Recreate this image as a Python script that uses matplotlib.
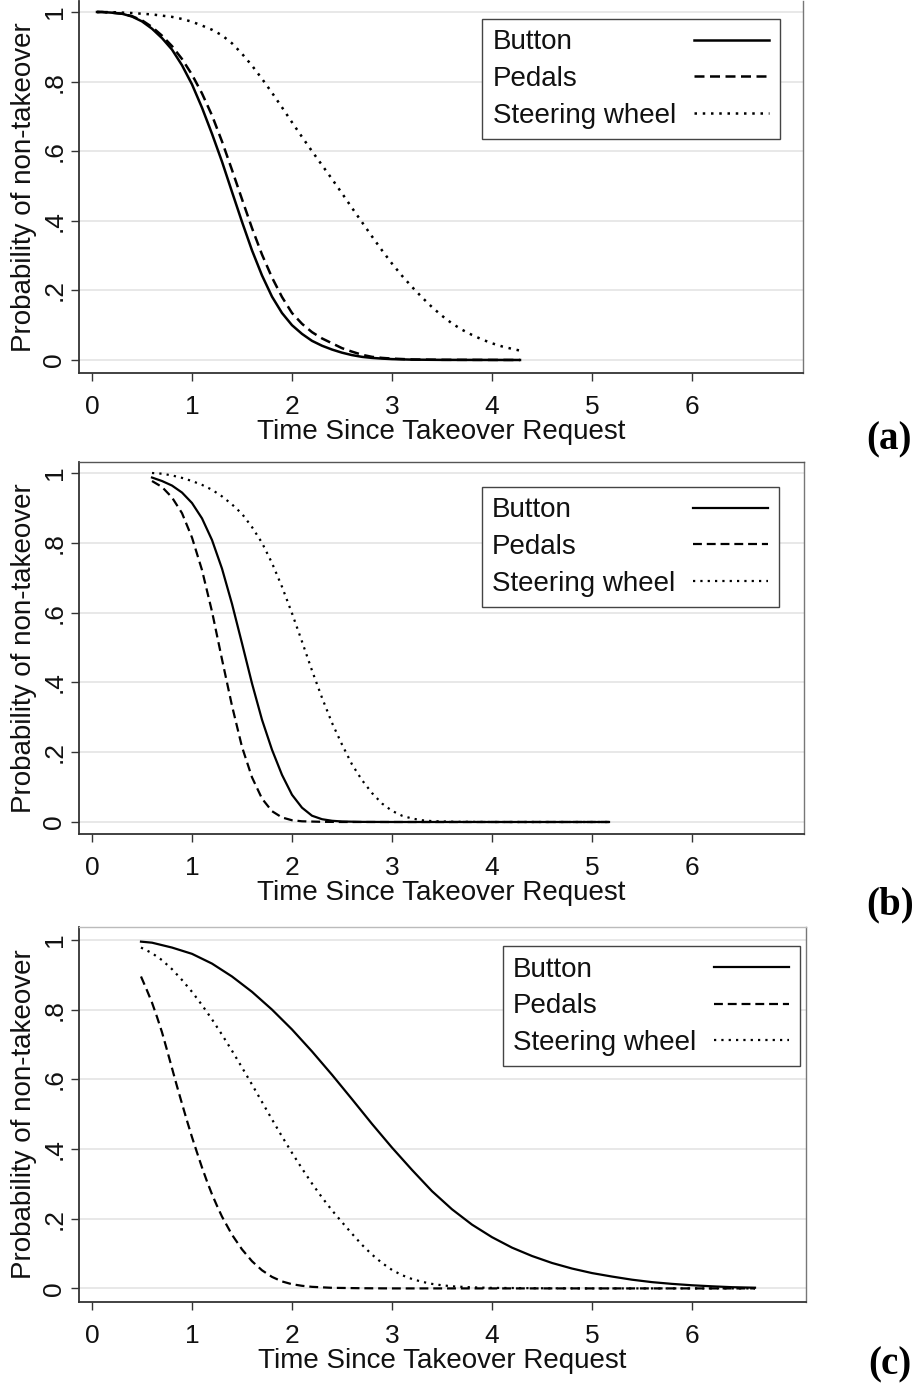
import matplotlib
matplotlib.use('Agg')
import matplotlib.pyplot as plt
from matplotlib.lines import Line2D

plt.rcParams['font.family'] = ['Liberation Sans', 'DejaVu Sans']

W, H = 917, 1388
DPI = 100

# ---------------- data ----------------
series_labels = ['Button', 'Pedals', 'Steering wheel']
x_ticks = [0, 1, 2, 3, 4, 5, 6]
y_ticks = [0, 0.2, 0.4, 0.6, 0.8, 1.0]
y_tick_labels = ['0', '.2', '.4', '.6', '.8', '1']
x_label = 'Time Since Takeover Request'
y_label = 'Probability of non-takeover'
panel_labels = ['(a)', '(b)', '(c)']

# panel (a)
a_button_t = [0.05, 0.1, 0.2, 0.3, 0.4, 0.5, 0.6, 0.7, 0.8, 0.9, 1.0, 1.1, 1.2, 1.3, 1.4, 1.5, 1.6, 1.7, 1.8, 1.9,
              2.0, 2.1, 2.2, 2.3, 2.4, 2.5, 2.6, 2.7, 2.8, 2.9, 3.0, 3.2, 3.5, 4.28]
a_button_p = [1.0, 1.0, 0.998, 0.995, 0.987, 0.973, 0.952, 0.925, 0.892, 0.847, 0.792, 0.725, 0.65, 0.57, 0.483,
              0.397, 0.315, 0.243, 0.182, 0.135, 0.10, 0.075, 0.055, 0.041, 0.030, 0.021, 0.014, 0.009, 0.006,
              0.004, 0.0025, 0.001, 0.0003, 0.0]
a_pedals_t = [0.05, 0.1, 0.2, 0.3, 0.4, 0.5, 0.6, 0.7, 0.8, 0.9, 1.0, 1.1, 1.2, 1.3, 1.4, 1.5, 1.6, 1.7, 1.8, 1.9,
              2.0, 2.1, 2.2, 2.3, 2.4, 2.5, 2.6, 2.7, 2.8, 2.9, 3.0, 3.2, 3.5, 4.28]
a_pedals_p = [1.0, 1.0, 0.998, 0.995, 0.988, 0.976, 0.957, 0.932, 0.902, 0.865, 0.82, 0.766, 0.703, 0.628, 0.546,
              0.462, 0.379, 0.303, 0.237, 0.181, 0.135, 0.104, 0.08, 0.062, 0.048, 0.034, 0.024, 0.015, 0.009,
              0.006, 0.004, 0.0015, 0.0005, 0.0]
a_steer_t = [0.05, 0.2, 0.4, 0.6, 0.8, 0.9, 1.0, 1.1, 1.2, 1.3, 1.4, 1.5, 1.6, 1.7, 1.8, 1.9, 2.0, 2.1, 2.2, 2.3,
             2.4, 2.5, 2.6, 2.7, 2.8, 2.9, 3.0, 3.1, 3.2, 3.3, 3.4, 3.5, 3.6, 3.7, 3.8, 3.9, 4.0, 4.1, 4.2, 4.28]
a_steer_p = [1.0, 0.9995, 0.997, 0.993, 0.986, 0.980, 0.972, 0.961, 0.949, 0.933, 0.91, 0.880, 0.846, 0.808, 0.768,
             0.726, 0.683, 0.641, 0.600, 0.560, 0.520, 0.479, 0.437, 0.396, 0.355, 0.315, 0.277, 0.242, 0.21,
             0.18, 0.152, 0.127, 0.105, 0.087, 0.072, 0.059, 0.048, 0.039, 0.032, 0.027]

# panel (b)
b_button_t = [0.6, 0.7, 0.8, 0.9, 1.0, 1.1, 1.2, 1.3, 1.4, 1.5, 1.6, 1.7, 1.8, 1.9, 2.0, 2.1, 2.2, 2.3, 2.4, 2.5,
              2.7, 3.0, 5.17]
b_button_p = [0.987, 0.977, 0.964, 0.944, 0.914, 0.870, 0.808, 0.726, 0.625, 0.512, 0.397, 0.293, 0.207, 0.135,
              0.078, 0.041, 0.018, 0.008, 0.0035, 0.0015, 0.0003, 0.0, 0.0]
b_pedals_t = [0.6, 0.7, 0.8, 0.9, 1.0, 1.1, 1.2, 1.3, 1.4, 1.5, 1.6, 1.7, 1.8, 1.9, 2.0, 2.1, 2.3, 2.5, 5.17]
b_pedals_p = [0.977, 0.96, 0.93, 0.885, 0.815, 0.722, 0.603, 0.466, 0.333, 0.215, 0.128, 0.067, 0.031, 0.013,
              0.005, 0.002, 0.0005, 0.0, 0.0]
b_steer_t = [0.6, 0.7, 0.8, 0.9, 1.0, 1.1, 1.2, 1.3, 1.4, 1.5, 1.6, 1.7, 1.8, 1.9, 2.0, 2.1, 2.2, 2.3, 2.4, 2.5,
             2.6, 2.7, 2.8, 2.9, 3.0, 3.1, 3.2, 3.3, 3.4, 3.6, 4.0, 5.17]
b_steer_p = [1.0, 0.998, 0.993, 0.986, 0.977, 0.966, 0.952, 0.933, 0.91, 0.883, 0.845, 0.80, 0.742, 0.674, 0.598,
             0.517, 0.434, 0.356, 0.284, 0.222, 0.165, 0.12, 0.083, 0.053, 0.032, 0.018, 0.010, 0.005, 0.0025,
             0.0008, 0.0, 0.0]

# panel (c)
c_button_t = [0.49, 0.6, 0.8, 1.0, 1.2, 1.4, 1.6, 1.8, 2.0, 2.2, 2.4, 2.6, 2.8, 3.0, 3.2, 3.4, 3.6, 3.8, 4.0, 4.2,
              4.4, 4.6, 4.8, 5.0, 5.2, 5.4, 5.6, 5.8, 6.0, 6.2, 6.4, 6.63]
c_button_p = [0.995, 0.992, 0.978, 0.96, 0.932, 0.895, 0.851, 0.80, 0.743, 0.68, 0.613, 0.543, 0.472, 0.404, 0.34,
              0.279, 0.227, 0.183, 0.147, 0.117, 0.093, 0.073, 0.057, 0.044, 0.034, 0.025, 0.018, 0.013, 0.009,
              0.006, 0.0035, 0.002]
c_pedals_t = [0.49, 0.55, 0.6, 0.65, 0.7, 0.75, 0.8, 0.85, 0.9, 0.95, 1.0, 1.05, 1.1, 1.15, 1.2, 1.25, 1.3, 1.4,
              1.5, 1.6, 1.7, 1.8, 1.9, 2.0, 2.1, 2.2, 2.4, 2.7, 3.0, 6.63]
c_pedals_p = [0.895, 0.855, 0.82, 0.779, 0.735, 0.684, 0.632, 0.58, 0.53, 0.481, 0.434, 0.39, 0.347, 0.307, 0.27,
              0.237, 0.206, 0.154, 0.112, 0.078, 0.052, 0.033, 0.02, 0.012, 0.0075, 0.0045, 0.0017, 0.0005, 0.0, 0.0]
c_steer_t = [0.49, 0.6, 0.7, 0.8, 0.9, 1.0, 1.1, 1.2, 1.3, 1.4, 1.5, 1.6, 1.7, 1.8, 1.9, 2.0, 2.1, 2.2, 2.3, 2.4,
             2.5, 2.6, 2.7, 2.8, 2.9, 3.0, 3.1, 3.2, 3.3, 3.4, 3.5, 3.6, 3.8, 4.0, 4.5, 5.0, 6.63]
c_steer_p = [0.978, 0.962, 0.942, 0.916, 0.885, 0.851, 0.813, 0.772, 0.728, 0.682, 0.634, 0.585, 0.535, 0.485,
             0.436, 0.389, 0.344, 0.301, 0.261, 0.224, 0.19, 0.157, 0.125, 0.097, 0.073, 0.053, 0.038, 0.027,
             0.019, 0.013, 0.009, 0.006, 0.003, 0.0015, 0.0004, 0.0, 0.0]

# ---------------- layout ----------------
def rect(l, r, t, b):
    return [l / W, 1 - b / H, (r - l) / W, (b - t) / H]

panels = [
    dict(series=[(a_button_t, a_button_p), (a_pedals_t, a_pedals_p), (a_steer_t, a_steer_p)],
         rect=rect(79, 803, 1, 373), xlim=(-0.13, 7.11), ylim=(-0.0374, 1.0316), lw=1.8,
         leg=(0.968, 0.952), top=None, label_xy=(889, 440)),
    dict(series=[(b_button_t, b_button_p), (b_pedals_t, b_pedals_p), (b_steer_t, b_steer_p)],
         rect=rect(79, 804, 462, 834), xlim=(-0.13, 7.12), ylim=(-0.0344, 1.0315), lw=1.6,
         leg=(0.9655, 0.933), top='#555555', label_xy=(890, 905)),
    dict(series=[(c_button_t, c_button_p), (c_pedals_t, c_pedals_p), (c_steer_t, c_steer_p)],
         rect=rect(79, 806, 927, 1302), xlim=(-0.13, 7.14), ylim=(-0.039, 1.037), lw=1.6,
         leg=(0.9917, 0.949), top='#bbbbbb', label_xy=(890, 1365)),
]

linestyles = ['-', (0, (4.0, 2.2)), (0, (1.0, 2.3))]

fig = plt.figure(figsize=(W / DPI, H / DPI), dpi=DPI)
fig.patch.set_facecolor('white')

legends = []
for i, pn in enumerate(panels):
    ax = fig.add_axes(pn['rect'])
    for (t, p), ls, lab in zip(pn['series'], linestyles, series_labels):
        ax.plot(t, p, color='black', lw=pn['lw'], linestyle=ls, label=lab,
                solid_joinstyle='round')
    ax.set_xlim(*pn['xlim'])
    ax.set_ylim(*pn['ylim'])
    ax.set_xticks(x_ticks)
    ax.set_xticklabels([str(v) for v in x_ticks])
    ax.set_yticks(y_ticks)
    ax.set_yticklabels(y_tick_labels, rotation=90, va='center')
    ax.grid(axis='y', color='#e6e6e6', lw=1.3)
    ax.grid(axis='x', visible=False)
    ax.set_axisbelow(True)
    ax.tick_params(axis='both', direction='out', length=6, width=1.0, color='#333333',
                   labelsize=19, labelcolor='#111111')
    ax.tick_params(axis='x', pad=10)
    ax.tick_params(axis='y', pad=3)
    ax.set_xlabel(x_label, fontsize=20, labelpad=0, color='#111111')
    ax.set_ylabel(y_label, fontsize=20, labelpad=4, color='#111111')
    for s in ('left', 'bottom'):
        ax.spines[s].set_color('#333333')
        ax.spines[s].set_linewidth(1.3)
    ax.spines['right'].set_color('#777777')
    ax.spines['right'].set_linewidth(1.0)
    if pn['top'] is None:
        ax.spines['top'].set_visible(False)
    else:
        ax.spines['top'].set_color(pn['top'])
        ax.spines['top'].set_linewidth(1.0)

    handles = [Line2D([0], [0], color='black', lw=pn['lw'], linestyle=ls) for ls in linestyles]
    leg = ax.legend(handles, series_labels, loc='upper right', bbox_to_anchor=pn['leg'],
                    borderaxespad=0, markerfirst=False, fontsize=20, frameon=True,
                    fancybox=False, framealpha=1, edgecolor='#444444',
                    handlelength=2.7, handletextpad=0.65, labelspacing=0.38,
                    borderpad=0.38)
    leg.get_frame().set_linewidth(1.0)
    for txt in leg.get_texts():
        txt.set_color('#111111')
    legends.append(leg)

    fig.text(pn['label_xy'][0] / W, 1 - pn['label_xy'][1] / H, panel_labels[i],
             ha='center', va='center', fontsize=28, fontweight='bold',
             family=['Liberation Serif', 'DejaVu Serif'])

# left-align legend labels with handles in a right-hand column (Stata style)
fig.canvas.draw()
for leg in legends:
    col = leg._legend_handle_box.get_children()[0]
    col.align = 'left'
    rows = col.get_children()
    widths = [t.get_window_extent().width for t in leg.get_texts()]
    maxw = max(widths)
    base = 0.65 * 20
    for row, w in zip(rows, widths):
        row.sep = base + (maxw - w) * 72.0 / DPI

fig.savefig('out.png', dpi=DPI, facecolor='white')
